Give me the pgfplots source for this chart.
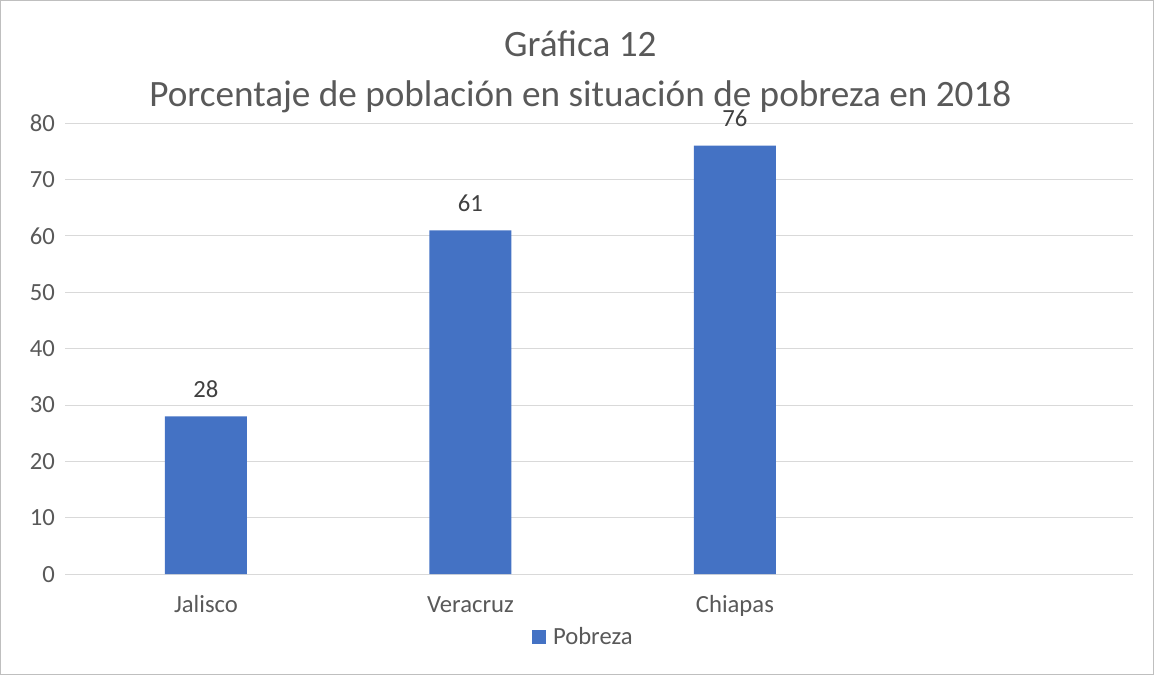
\documentclass[border=0pt]{standalone}
\usepackage{pgfplots}
\pgfplotsset{compat=1.18}
\usepackage{fontspec}
\setmainfont{Carlito}
\definecolor{barblue}{HTML}{4472C4}
\definecolor{gridgray}{HTML}{D9D9D9}
\definecolor{txtgray}{HTML}{595959}
\definecolor{lblgray}{HTML}{404040}
\definecolor{framegray}{HTML}{BFBFBF}
\begin{document}
\begin{tikzpicture}
\begin{axis}[
  name=ax,
  scale only axis,
  width=801pt, height=338.25pt,
  ymin=0, ymax=80,
  ytick={0,10,...,80},
  xmin=-0.533, xmax=3.505,
  xtick={0,1,2},
  xticklabels={Jalisco,Veracruz,Chiapas},
  axis line style={draw=none},
  major tick length=0pt,
  ymajorgrids,
  grid style={color=gridgray, line width=0.75pt},
  ticklabel style={font=\fontsize{18.5}{22}\selectfont, text=txtgray},
  yticklabel style={xshift=-4pt},
  xticklabel style={anchor=base, yshift=-28.5pt},
  /pgf/number format/assume math mode=true,
  ybar, bar width=61.5pt,
  nodes near coords,
  every node near coord/.append style={font=\fontsize{18.5}{22}\selectfont, text=lblgray, inner sep=0pt, yshift=14pt},
  legend style={draw=none, fill=none, at={(0.4855,-0.14)}, anchor=center,
    font=\fontsize{18.5}{22}\selectfont, text=txtgray},
  legend image code/.code={\fill[barblue] (0pt,-5.25pt) rectangle (10.5pt,5.25pt); \path (14pt,0pt);},
  clip=false,
]
\addplot[fill=barblue, draw=none] coordinates {(0,28) (1,61) (2,76)};
\addlegendentry{Pobreza}
\end{axis}
\node[font=\fontsize{27.9}{37.5}\selectfont, text=txtgray, align=center, inner sep=0pt] at ([xshift=-14pt, yshift=38.5pt]ax.north) {Gráfica 12\\Porcentaje de población en situación de pobreza en 2018};
\draw[framegray, line width=0.75pt] ([shift={(-48.4pt,-75.4pt)}]ax.south west) rectangle ([shift={(15.4pt,92pt)}]ax.north east);
\end{tikzpicture}
\end{document}
